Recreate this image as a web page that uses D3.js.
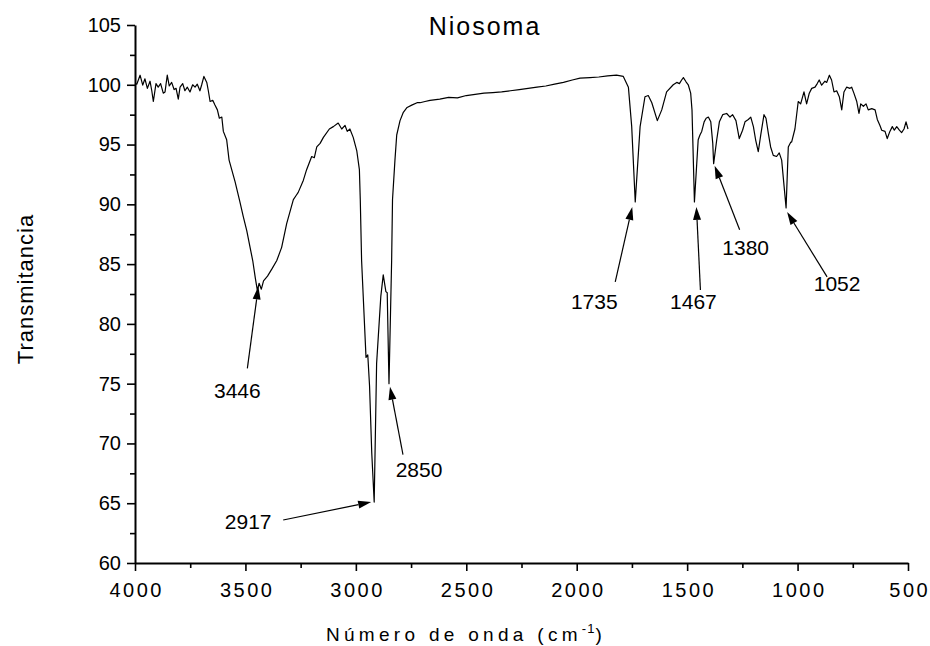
<!DOCTYPE html>
<html>
<head>
<meta charset="utf-8">
<script src="https://cdn.jsdelivr.net/npm/d3@7/dist/d3.min.js"></script>
<style>
  body { margin: 0; background: #fff; }
  text { font-family: "Liberation Sans", Arial, sans-serif; fill: #000; }
</style>
</head>
<body>
<svg id="chart" width="930" height="646"></svg>
<script>
// FTIR spectrum of the niosome sample: wavenumber (cm-1) and transmittance (%)
const wavenumber = [
  4000, 3992, 3977, 3965, 3955, 3944, 3932, 3924, 3917, 3905, 3895, 3884, 3872, 3864,
  3854, 3845, 3834, 3823, 3814, 3804, 3796, 3784, 3774, 3763, 3751, 3739, 3728, 3718,
  3706, 3698, 3688, 3675, 3668, 3660, 3648, 3638, 3627, 3618, 3607, 3600, 3585, 3574,
  3547, 3525, 3510, 3494, 3479, 3467, 3455, 3446, 3438, 3428, 3418, 3400, 3380, 3358,
  3336, 3313, 3283, 3272, 3261, 3238, 3223, 3200, 3188, 3177, 3162, 3147, 3120, 3102,
  3080, 3064, 3049, 3039, 3027, 3012, 2996, 2984, 2980, 2974, 2954, 2946, 2938, 2928,
  2917, 2906, 2887, 2876, 2864, 2858, 2850, 2838, 2834, 2823, 2815, 2800, 2785, 2768,
  2747, 2723, 2710, 2687, 2664, 2620, 2580, 2540, 2500, 2460, 2420, 2380, 2340, 2300,
  2260, 2220, 2180, 2140, 2100, 2060, 2020, 1985, 1940, 1900, 1860, 1820, 1789, 1766,
  1751, 1735, 1713, 1691, 1676, 1660, 1635, 1615, 1593, 1563, 1547, 1535, 1525, 1517,
  1505, 1495, 1484, 1478, 1467, 1450, 1442, 1434, 1423, 1414, 1404, 1393, 1384, 1380,
  1366, 1354, 1339, 1321, 1306, 1294, 1279, 1264, 1249, 1238, 1223, 1212, 1200, 1190,
  1178, 1166, 1152, 1143, 1132, 1122, 1110, 1095, 1083, 1072, 1061, 1052, 1042, 1031,
  1027, 1012, 997, 986, 971, 959, 947, 936, 921, 911, 902, 891, 876, 868, 856, 846,
  835, 823, 811, 800, 790, 778, 763, 755, 745, 732, 722, 714, 702, 690, 680, 664,
  649, 639, 627, 619, 604, 594, 582, 571, 562, 551, 539, 529, 518, 509, 500
];
const transmittance = [
  100.1, 100.05, 100.8, 99.97, 100.5, 99.7, 100.3, 99.5, 98.6, 100.1, 99.8, 100.1, 99.3, 99.4,
  100.8, 99.9, 100.2, 99.6, 99.7, 98.8, 99.8, 100.1, 99.5, 99.8, 99.4, 100.0, 99.8, 100.05,
  99.5, 100.0, 100.7, 100.2, 99.5, 98.6, 98.7, 98.3, 97.9, 97.2, 97.3, 96.1, 95.4, 93.7,
  91.9, 90.2, 89.0, 87.8, 86.4, 85.3, 83.8, 82.8, 83.4, 82.9, 83.6, 84.0, 84.6, 85.3,
  86.4, 88.4, 90.4, 90.7, 91.0, 92.0, 92.9, 94.0, 93.9, 94.8, 95.1, 95.6, 96.3, 96.5,
  96.8, 96.3, 96.6, 96.1, 96.3, 95.6, 94.5, 92.9, 90.4, 85.3, 77.2, 77.4, 74.8, 69.2,
  65.1, 76.7, 82.3, 84.1, 82.7, 82.6, 75.0, 85.3, 90.4, 93.7, 95.8, 97.0, 97.7, 98.1,
  98.3, 98.5, 98.5, 98.6, 98.7, 98.8, 98.95, 98.9, 99.1, 99.2, 99.3, 99.35, 99.4, 99.5,
  99.6, 99.7, 99.8, 99.9, 100.05, 100.2, 100.4, 100.55, 100.6, 100.65, 100.75, 100.8, 100.7, 99.8,
  96.5, 90.2, 96.5, 99.0, 99.1, 98.5, 97.0, 97.9, 99.4, 100.0, 100.2, 100.1, 100.4, 100.6,
  100.25, 100.0, 99.3, 97.9, 90.2, 95.4, 95.8, 96.1, 96.9, 97.2, 97.3, 96.9, 95.1, 93.4,
  95.4, 96.9, 97.5, 97.6, 97.3, 97.5, 97.0, 95.5, 96.2, 96.9, 97.1, 97.3, 96.5, 95.4,
  94.4, 95.9, 97.5, 97.2, 95.9, 94.8, 94.1, 94.0, 94.3, 93.7, 91.5, 89.7, 94.8, 95.2,
  95.2, 96.3, 98.6, 98.4, 99.4, 98.4, 99.3, 99.7, 99.8, 100.1, 100.4, 99.97, 100.3, 100.2, 100.8, 100.4,
  99.4, 99.5, 99.0, 97.9, 99.4, 99.8, 99.7, 99.8, 99.3, 98.6, 97.6, 98.4, 98.2, 98.4, 97.9, 98.0,
  97.9, 97.1, 96.6, 96.2, 96.1, 95.5, 96.1, 96.5, 96.2, 96.5, 96.2, 96.0, 96.3, 96.9, 96.3
];

const xTicks = [4000, 3500, 3000, 2500, 2000, 1500, 1000, 500];
const xMinorTicks = [3750, 3250, 2750, 2250, 1750, 1250, 750];
const yTicks = [60, 65, 70, 75, 80, 85, 90, 95, 100, 105];
const yMinorTicks = [62.5, 67.5, 72.5, 77.5, 82.5, 87.5, 92.5, 97.5, 102.5];

// Labelled absorption bands (cm-1)
const peakLabels = [3446, 2917, 2850, 1735, 1467, 1380, 1052];

const titleText = "Niosoma";
const xTitle = "Número de onda (cm";
const yTitle = "Transmitancia";

// ---- layout ----
const svg = d3.select("#chart");
const margin = { left: 135, right: 22, top: 25, bottom: 83 };
const W = 930, H = 646;

const x = d3.scaleLinear().domain([4000, 500]).range([margin.left, W - margin.right]);
const y = d3.scaleLinear().domain([60, 105]).range([H - margin.bottom, margin.top]);

const spectrum = wavenumber.map((w, i) => ({ w, t: transmittance[i] }));

// curve
svg.append("path")
  .datum(spectrum)
  .attr("fill", "none")
  .attr("stroke", "#000")
  .attr("stroke-width", 1.2)
  .attr("stroke-linejoin", "round")
  .attr("d", d3.line().x(d => x(d.w)).y(d => y(d.t)));

// axes
const xAxis = svg.append("g")
  .attr("transform", `translate(0,${y(60)})`)
  .call(d3.axisBottom(x).tickValues(xTicks).tickFormat(d3.format("d")).tickSize(8).tickSizeOuter(0).tickPadding(12));
svg.append("g")
  .attr("transform", `translate(0,${y(60)})`)
  .call(d3.axisBottom(x).tickValues(xMinorTicks).tickSize(5).tickSizeOuter(0).tickFormat(""))
  .call(g => g.select(".domain").remove());

const yAxis = svg.append("g")
  .attr("transform", `translate(${x(4000)},0)`)
  .call(d3.axisLeft(y).tickValues(yTicks).tickSize(8).tickSizeOuter(0).tickPadding(6));
svg.append("g")
  .attr("transform", `translate(${x(4000)},0)`)
  .call(d3.axisLeft(y).tickValues(yMinorTicks).tickSize(5).tickSizeOuter(0).tickFormat(""))
  .call(g => g.select(".domain").remove());

svg.selectAll(".domain").attr("stroke-width", 2).attr("stroke", "#000");
svg.selectAll(".tick line").attr("stroke-width", 1.6).attr("stroke", "#000");
svg.selectAll(".tick text")
  .style("font-family", '"Liberation Sans", Arial, sans-serif')
  .style("font-size", "20px")
  .attr("fill", "#000");
xAxis.selectAll(".tick text").style("letter-spacing", "2.5px").attr("dx", "1.25");

// title
svg.append("text")
  .attr("x", 485).attr("y", 35)
  .attr("text-anchor", "middle")
  .style("font-size", "25px")
  .style("letter-spacing", "2px")
  .text(titleText);

// axis titles
const xt = svg.append("text")
  .attr("x", 466).attr("y", 641)
  .attr("text-anchor", "middle")
  .style("font-size", "19px")
  .style("letter-spacing", "4.3px");
xt.append("tspan").text(xTitle);
xt.append("tspan").attr("dy", -8).style("font-size", "13px").style("letter-spacing", "1px").text("-1");
xt.append("tspan").attr("dy", 8).text(")");

svg.append("text")
  .attr("transform", `translate(33,289) rotate(-90)`)
  .attr("text-anchor", "middle")
  .style("font-size", "22px")
  .style("letter-spacing", "1px")
  .text(yTitle);

// ---- peak annotations: arrow from label toward the band minimum ----
// offsets in px relative to the band point: tip, tail, label centre
const annotLayout = {
  3446: { tip: [1, -4], tail: [-10, 78], label: [-20, 100] },
  2917: { tip: [-3, 0], tail: [-91, 18], label: [-126, 19] },
  2850: { tip: [1, 3], tail: [14, 71], label: [30, 86] },
  1735: { tip: [-3, 5], tail: [-20, 80], label: [-41, 99] },
  1467: { tip: [2, 5], tail: [6, 88], label: [-1, 99] },
  1380: { tip: [1, 2], tail: [26, 66], label: [32, 84] },
  1052: { tip: [1, 4], tail: [41, 69], label: [51, 76] }
};

const annot = svg.append("g");
peakLabels.forEach(p => {
  const i = wavenumber.indexOf(p);
  const px = x(p), py = y(transmittance[i]);
  const L = annotLayout[p];
  const tx = px + L.tip[0], ty = py + L.tip[1];
  const sx = px + L.tail[0], sy = py + L.tail[1];
  const ang = Math.atan2(ty - sy, tx - sx);
  const hl = 13, hw = 4;
  const bx = tx - hl * Math.cos(ang), by = ty - hl * Math.sin(ang);
  annot.append("line")
    .attr("x1", sx).attr("y1", sy).attr("x2", bx).attr("y2", by)
    .attr("stroke", "#000").attr("stroke-width", 1.2);
  annot.append("polygon")
    .attr("points", [
      [tx, ty],
      [bx + hw * Math.sin(ang), by - hw * Math.cos(ang)],
      [bx - hw * Math.sin(ang), by + hw * Math.cos(ang)]
    ].map(q => q.join(",")).join(" "))
    .attr("fill", "#000");
  annot.append("text")
    .attr("x", px + L.label[0]).attr("y", py + L.label[1])
    .attr("text-anchor", "middle")
    .attr("dy", "0.36em")
    .style("font-size", "21px")
    .text(p);
});
</script>
</body>
</html>
